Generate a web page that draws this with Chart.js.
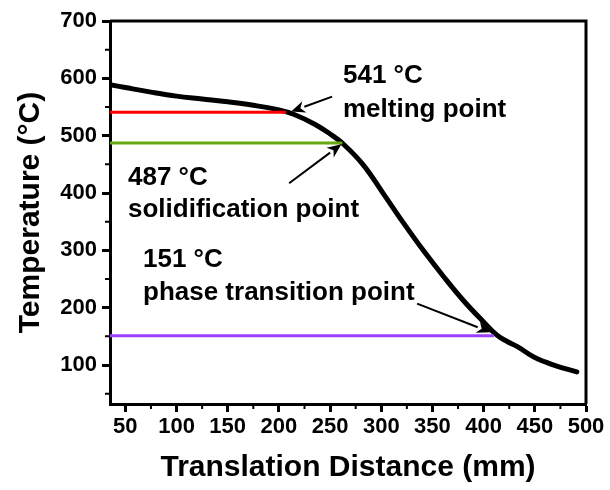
<!DOCTYPE html>
<html>
<head>
<meta charset="utf-8">
<script src="https://cdn.jsdelivr.net/npm/chart.js@4/dist/chart.umd.min.js"></script>
<style>
  body { margin: 0; background: #fff; }
  canvas { display: block; }
</style>
</head>
<body>
<canvas id="chart" width="610" height="490"></canvas>
<script>
// temperature profile
const distMm = [35, 50, 75, 100, 125, 150, 175, 200, 215, 235, 250, 262, 282, 302, 322, 341, 361, 380, 400, 413, 423, 433, 450, 470, 491];
const tempC  = [589, 584, 576, 569, 564, 559, 553, 545, 537, 520, 503, 487, 450, 399, 347, 300, 254, 213, 175, 152, 141, 132, 113, 99, 88];

// characteristic temperatures (horizontal guide lines)
const meltX = [35, 207],  meltT = [541, 541];
const solidX = [35, 262], solidT = [487, 487];
const phaseX = [35, 410], phaseT = [151, 151];

const xTicks = [50, 100, 150, 200, 250, 300, 350, 400, 450, 500];
const xMinor = [75, 125, 175, 225, 275, 325, 375, 425, 475];
const yTicks = [100, 200, 300, 400, 500, 600, 700];
const yMinor = [50, 150, 250, 350, 450, 550, 650];

// arrows: [fromX, fromT, toX, toT]
const arrows = [
  [252, 568, 212, 542],
  [210, 417, 261, 485],
  [335, 207, 407, 157]
];

// labels: text, left px, baseline px
const notes = [
  ['541 °C', 343, 83],
  ['melting point', 343, 117],
  ['487 °C', 128, 185],
  ['solidification point', 128, 217],
  ['151 °C', 143, 267],
  ['phase transition point', 143, 300]
];

const FONT = '"Liberation Sans", Arial, sans-serif';

function pts(xs, ys) {
  return xs.map((x, i) => ({ x: x, y: ys[i] }));
}

const extras = {
  id: 'extras',
  afterDraw(chart) {
    const ctx = chart.ctx;
    const xs = chart.scales.x, ys = chart.scales.y;
    const a = chart.chartArea;
    ctx.save();
    // frame top + right
    ctx.strokeStyle = '#000';
    ctx.lineWidth = 3;
    ctx.beginPath();
    ctx.moveTo(a.left, a.top);
    ctx.lineTo(a.right, a.top);
    ctx.lineTo(a.right, a.bottom);
    ctx.stroke();
    // minor ticks
    ctx.lineWidth = 2;
    ctx.beginPath();
    xMinor.forEach(v => {
      const px = xs.getPixelForValue(v);
      ctx.moveTo(px, a.bottom);
      ctx.lineTo(px, a.bottom + 5);
    });
    yMinor.forEach(v => {
      const py = ys.getPixelForValue(v);
      ctx.moveTo(a.left, py);
      ctx.lineTo(a.left - 5, py);
    });
    ctx.stroke();
    // arrows
    arrows.forEach(ar => {
      const x1 = xs.getPixelForValue(ar[0]), y1 = ys.getPixelForValue(ar[1]);
      const x2 = xs.getPixelForValue(ar[2]), y2 = ys.getPixelForValue(ar[3]);
      const ang = Math.atan2(y2 - y1, x2 - x1);
      const hl = 14, hw = 6;
      const bx = x2 - hl * Math.cos(ang), by = y2 - hl * Math.sin(ang);
      ctx.lineWidth = 2;
      ctx.beginPath();
      ctx.moveTo(x1, y1);
      ctx.lineTo(bx, by);
      ctx.stroke();
      ctx.fillStyle = '#000';
      ctx.beginPath();
      ctx.moveTo(x2, y2);
      ctx.lineTo(bx + hw * Math.sin(ang), by - hw * Math.cos(ang));
      ctx.lineTo(x2 - 0.7 * hl * Math.cos(ang), y2 - 0.7 * hl * Math.sin(ang));
      ctx.lineTo(bx - hw * Math.sin(ang), by + hw * Math.cos(ang));
      ctx.closePath();
      ctx.fill();
    });
    // text notes
    ctx.fillStyle = '#000';
    ctx.font = 'bold 26px ' + FONT;
    ctx.textAlign = 'left';
    ctx.textBaseline = 'alphabetic';
    notes.forEach(n => ctx.fillText(n[0], n[1], n[2]));
    ctx.restore();
  }
};

new Chart(document.getElementById('chart'), {
  type: 'line',
  data: {
    datasets: [
      { data: pts(meltX, meltT), borderColor: '#ff0000', borderWidth: 3, pointRadius: 0 },
      { data: pts(solidX, solidT), borderColor: '#66a80f', borderWidth: 3, pointRadius: 0 },
      { data: pts(phaseX, phaseT), borderColor: '#9b40ff', borderWidth: 3, pointRadius: 0 },
      { data: pts(distMm, tempC), borderColor: '#000', borderWidth: 5, pointRadius: 0,
        tension: 0.4, borderCapStyle: 'round', borderJoinStyle: 'round' }
    ]
  },
  options: {
    responsive: false,
    animation: false,
    layout: { padding: { top: 21, right: 24, left: 0, bottom: 0 } },
    plugins: { legend: { display: false }, tooltip: { enabled: false } },
    scales: {
      x: {
        type: 'linear',
        min: 35, max: 500,
        afterBuildTicks: s => { s.ticks = xTicks.map(v => ({ value: v })); },
        afterFit: s => { s.height = 86; },
        ticks: { color: '#000', font: { family: FONT, size: 22, weight: 'bold' }, padding: 2, maxRotation: 0 },
        grid: { drawOnChartArea: false, tickLength: 8, tickWidth: 3, tickColor: '#000' },
        border: { display: true, width: 3, color: '#000' },
        title: { display: true, text: 'Translation Distance (mm)', color: '#000',
          font: { family: FONT, size: 30, weight: 'bold' }, padding: { top: 0, bottom: 4 } }
      },
      y: {
        type: 'linear',
        min: 32, max: 700,
        afterBuildTicks: s => { s.ticks = yTicks.map(v => ({ value: v })); },
        afterFit: s => { s.width = 110; },
        ticks: { color: '#000', font: { family: FONT, size: 22, weight: 'bold' }, padding: 5 },
        grid: { drawOnChartArea: false, tickLength: 8, tickWidth: 3, tickColor: '#000' },
        border: { display: true, width: 3, color: '#000' },
        title: { display: true, text: 'Temperature (°C)', color: '#000',
          font: { family: FONT, size: 30, weight: 'bold' }, padding: { top: 13, bottom: 0 } }
      }
    }
  },
  plugins: [extras]
});
</script>
</body>
</html>
